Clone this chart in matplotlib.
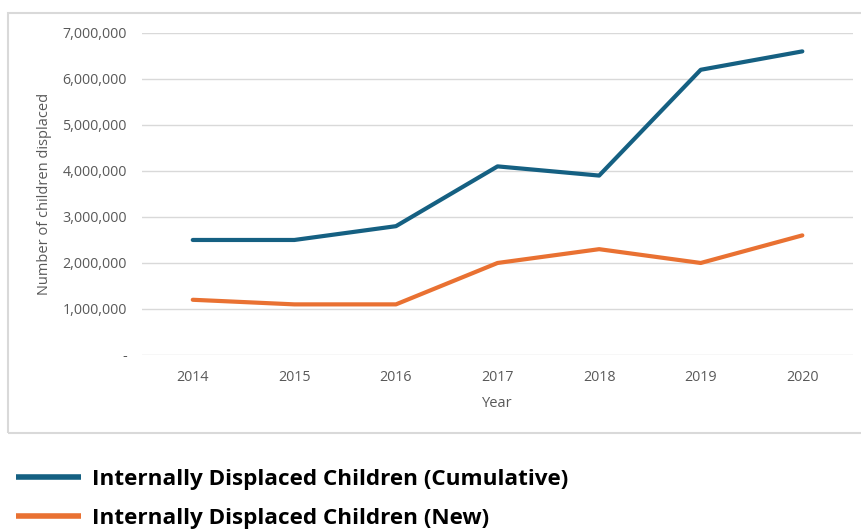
import matplotlib.pyplot as plt
from matplotlib.patches import Rectangle
from matplotlib.ticker import FuncFormatter

years = ['2014', '2015', '2016', '2017', '2018', '2019', '2020']
cumulative = [2500000, 2500000, 2800000, 4100000, 3900000, 6200000, 6600000]
new = [1200000, 1100000, 1100000, 2000000, 2300000, 2000000, 2600000]
series_names = ['Internally Displaced Children (Cumulative)',
                'Internally Displaced Children (New)']
colors = ['#156082', '#E97132']

plt.rcParams['font.family'] = ['Open Sans', 'DejaVu Sans']

fig = plt.figure(figsize=(8.62, 5.31), dpi=100)
ax = fig.add_axes([0.1647, 0.3315, 0.825, 0.6064])

# outer chart frame
fig.patches.append(Rectangle((8 / 862, 1 - 433 / 531), 1.0, (433 - 13) / 531,
                             transform=fig.transFigure, fill=False,
                             edgecolor='#d9d9d9', linewidth=1.5))

x = range(len(years))
l1, = ax.plot(x, cumulative, color=colors[0], linewidth=3, solid_capstyle='round')
l2, = ax.plot(x, new, color=colors[1], linewidth=3, solid_capstyle='round')

ax.set_xlim(-0.5, len(years) - 0.5)
ax.set_ylim(0, 7000000)
ax.set_yticks(range(0, 7000001, 1000000))
ax.yaxis.set_major_formatter(FuncFormatter(lambda v, p: '-' if v == 0 else f'{int(v):,}'))
ax.set_xticks(list(x))
ax.set_xticklabels(years)
ax.grid(axis='y', color='#d9d9d9', linewidth=1)
ax.set_axisbelow(True)
for s in ax.spines.values():
    s.set_visible(False)
ax.tick_params(length=0, colors='#595959', labelsize=10.3)
ax.tick_params(axis='y', pad=11)
ax.tick_params(axis='x', pad=11)
ax.set_ylabel('Number of children displaced', color='#595959', fontsize=10.5, labelpad=7)
ax.set_xlabel('Year', color='#595959', fontsize=10.5, labelpad=8)

leg = fig.legend([l1, l2], series_names, loc='upper left',
                 bbox_to_anchor=(0.008, 0.134), frameon=False,
                 handlelength=2.9, handletextpad=0.5, labelspacing=0.8,
                 borderaxespad=0.0,
                 prop={'weight': 'bold', 'size': 16.2})
for h in leg.get_lines():
    h.set_linewidth(4)
    h.set_solid_capstyle('butt')

fig.savefig('out.png', dpi=100)
